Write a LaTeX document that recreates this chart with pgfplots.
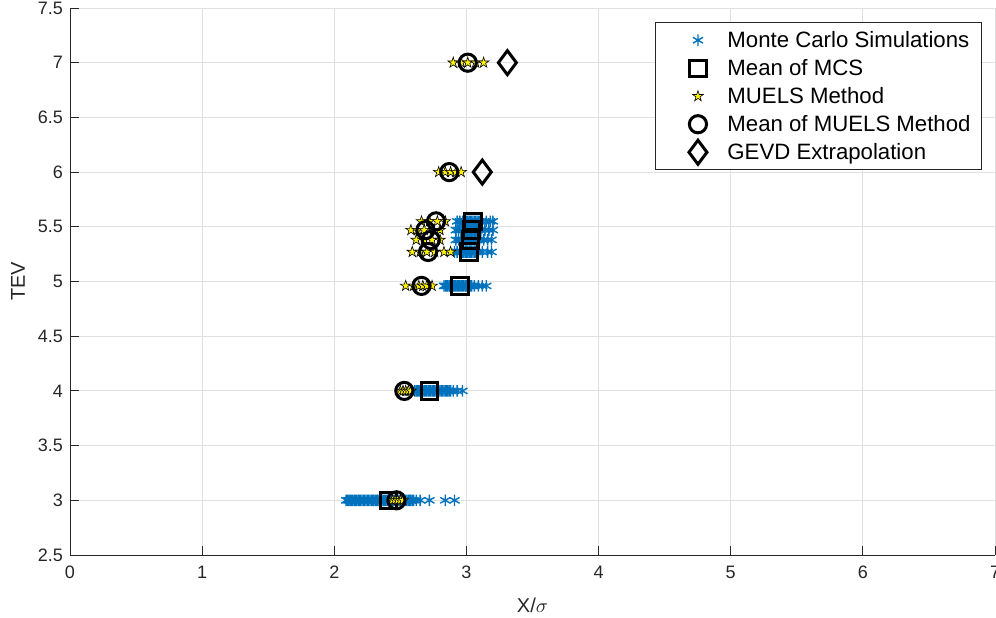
\documentclass[border=0pt]{standalone}
\usepackage{pgfplots}
\pgfplotsset{compat=1.18}
\usepackage{pgfplotstable}
\usepackage{fontspec}
\setmainfont{Liberation Sans}
\setsansfont{Liberation Sans}
\usetikzlibrary{plotmarks}

\definecolor{mblue}{rgb}{0,0.447,0.741}
\definecolor{axgray}{rgb}{0.15,0.15,0.15}

% filled five-pointed star
\pgfdeclareplotmark{pentastar}{%
  \pgfpathmoveto{\pgfpointpolar{90}{\pgfplotmarksize}}%
  \pgfpathlineto{\pgfpointpolar{126}{0.382\pgfplotmarksize}}%
  \pgfpathlineto{\pgfpointpolar{162}{\pgfplotmarksize}}%
  \pgfpathlineto{\pgfpointpolar{198}{0.382\pgfplotmarksize}}%
  \pgfpathlineto{\pgfpointpolar{234}{\pgfplotmarksize}}%
  \pgfpathlineto{\pgfpointpolar{270}{0.382\pgfplotmarksize}}%
  \pgfpathlineto{\pgfpointpolar{306}{\pgfplotmarksize}}%
  \pgfpathlineto{\pgfpointpolar{342}{0.382\pgfplotmarksize}}%
  \pgfpathlineto{\pgfpointpolar{18}{\pgfplotmarksize}}%
  \pgfpathlineto{\pgfpointpolar{54}{0.382\pgfplotmarksize}}%
  \pgfpathclose
  \pgfusepathqfillstroke}

% means of the simulations
\pgfplotstableread{
x y
2.41 3
2.72 4
2.95 4.96
3.02 5.27
3.03 5.38
3.04 5.47
3.05 5.55
}\mcsmean

% MUELS estimates
\pgfplotstableread{
x y
2.44 3
2.46 3
2.48 3
2.50 3
2.52 3
2.50 4
2.52 4
2.54 4
2.56 4
2.58 4
2.54 4.96
2.60 4.96
2.64 4.96
2.67 4.96
2.70 4.96
2.74 4.96
2.59 5.27
2.65 5.27
2.70 5.27
2.76 5.27
2.83 5.27
2.88 5.27
2.62 5.38
2.68 5.38
2.74 5.38
2.80 5.38
2.58 5.47
2.63 5.47
2.68 5.47
2.75 5.47
2.80 5.47
2.66 5.55
2.72 5.55
2.78 5.55
2.84 5.55
2.79 6
2.84 6
2.88 6
2.92 6
2.96 6
2.90 7
2.96 7
3.01 7
3.07 7
3.13 7
}\muels

% means of the MUELS estimates
\pgfplotstableread{
x y
2.47 3
2.53 4
2.66 4.96
2.71 5.27
2.73 5.38
2.69 5.47
2.77 5.55
2.87 6
3.01 7
}\muelsmean

% GEVD extrapolation
\pgfplotstableread{
x y
3.12 6
3.31 7
}\gevd

\pgfplotsset{
  legmark/.style={legend image code/.code={%
      \path (0pt,0pt) (30pt,0pt);
      \draw[##1] plot coordinates {(17.5pt,0pt)};}},
}

\begin{document}
\begin{tikzpicture}
\begin{axis}[
  name=ax,
  scale only axis,
  width=462.5pt, height=273.5pt,
  xmin=0, xmax=7, ymin=2.5, ymax=7.5,
  xtick={0,1,...,7},
  ytick={2.5,3,...,7.5},
  axis x line*=bottom, axis y line*=left,
  axis line style={-, draw=axgray, line width=0.5pt},
  tick align=inside,
  major tick length=4.5pt,
  tick style={draw=axgray, line width=0.5pt},
  grid=major,
  major grid style={draw=black!12, line width=0.5pt},
  /pgf/number format/assume math mode=true,
  ticklabel style={font=\fontsize{9}{10}\selectfont, text=axgray},
  xticklabel style={yshift=-2pt},
  xlabel={X/$\sigma$},
  ylabel={TEV},
  label style={font=\fontsize{10}{12}\selectfont, text=axgray},
  xlabel style={at={(axis description cs:0.5,-0.0914)}, anchor=center},
  ylabel style={at={(axis description cs:-0.0562,0.5)}, anchor=center},
  legend style={at={(axis description cs:0.986,0.974)}, anchor=north east,
    draw=axgray, line width=0.5pt, fill=white,
    font=\fontsize{11.1}{13}\selectfont,
    inner xsep=3.5pt, inner ysep=1.75pt, row sep=0pt,
    nodes={text height=9pt, text depth=1.5pt, inner ysep=1.75pt}},
  legend cell align=left,
  clip=false,
]
% Monte Carlo simulations
\addplot[only marks, mark=asterisk, mark size=2.9pt, color=mblue,
  mark options={line width=0.7pt}, legmark] coordinates {
  (2.09,3) (2.10,3) (2.11,3) (2.12,3) (2.13,3) (2.14,3) (2.15,3) (2.16,3)
  (2.17,3) (2.18,3) (2.19,3) (2.20,3) (2.21,3) (2.22,3) (2.23,3) (2.24,3)
  (2.25,3) (2.26,3) (2.27,3) (2.28,3) (2.29,3) (2.30,3) (2.31,3) (2.32,3)
  (2.33,3) (2.34,3) (2.35,3) (2.36,3) (2.37,3) (2.38,3) (2.39,3) (2.40,3)
  (2.41,3) (2.42,3) (2.43,3) (2.44,3) (2.45,3) (2.46,3) (2.47,3) (2.48,3)
  (2.49,3) (2.50,3) (2.51,3) (2.52,3) (2.53,3) (2.54,3) (2.55,3) (2.56,3)
  (2.57,3) (2.58,3) (2.59,3) (2.60,3) (2.62,3) (2.65,3) (2.72,3) (2.84,3)
  (2.91,3)
  (2.61,4) (2.62,4) (2.63,4) (2.64,4) (2.65,4) (2.66,4) (2.67,4) (2.68,4)
  (2.69,4) (2.70,4) (2.71,4) (2.72,4) (2.73,4) (2.74,4) (2.75,4) (2.76,4)
  (2.77,4) (2.78,4) (2.79,4) (2.80,4) (2.81,4) (2.82,4) (2.83,4) (2.84,4)
  (2.85,4) (2.86,4) (2.87,4) (2.88,4) (2.90,4) (2.93,4) (2.97,4)
  (2.83,4.96) (2.84,4.96) (2.85,4.96) (2.86,4.96) (2.87,4.96) (2.88,4.96)
  (2.89,4.96) (2.90,4.96) (2.91,4.96) (2.92,4.96) (2.93,4.96) (2.94,4.96)
  (2.95,4.96) (2.96,4.96) (2.97,4.96) (2.98,4.96) (2.99,4.96) (3.00,4.96)
  (3.01,4.96) (3.02,4.96) (3.03,4.96) (3.04,4.96) (3.06,4.96) (3.09,4.96)
  (3.12,4.96) (3.15,4.96)
  (2.91,5.27) (2.93,5.27) (2.95,5.27) (2.96,5.27) (2.97,5.27) (2.98,5.27)
  (2.99,5.27) (3.00,5.27) (3.01,5.27) (3.02,5.27) (3.03,5.27) (3.04,5.27)
  (3.05,5.27) (3.06,5.27) (3.07,5.27) (3.09,5.27) (3.12,5.27) (3.16,5.27)
  (3.19,5.27)
  (2.92,5.38) (2.94,5.38) (2.96,5.38) (2.97,5.38) (2.98,5.38) (2.99,5.38)
  (3.00,5.38) (3.01,5.38) (3.02,5.38) (3.03,5.38) (3.04,5.38) (3.05,5.38)
  (3.06,5.38) (3.07,5.38) (3.08,5.38) (3.10,5.38) (3.13,5.38) (3.16,5.38)
  (3.19,5.38)
  (2.92,5.47) (2.94,5.47) (2.96,5.47) (2.98,5.47) (2.99,5.47) (3.00,5.47)
  (3.01,5.47) (3.02,5.47) (3.03,5.47) (3.04,5.47) (3.05,5.47) (3.06,5.47)
  (3.07,5.47) (3.08,5.47) (3.09,5.47) (3.11,5.47) (3.14,5.47) (3.17,5.47)
  (3.20,5.47)
  (2.93,5.55) (2.95,5.55) (2.97,5.55) (2.99,5.55) (3.00,5.55) (3.01,5.55)
  (3.02,5.55) (3.03,5.55) (3.04,5.55) (3.05,5.55) (3.06,5.55) (3.07,5.55)
  (3.08,5.55) (3.09,5.55) (3.10,5.55) (3.12,5.55) (3.15,5.55) (3.18,5.55)
  (3.20,5.55)
};
\addlegendentry{Monte Carlo Simulations}
\addplot[only marks, mark=square, mark size=4.1pt, color=black,
  mark options={line width=1.5pt, fill=none}, legmark] table {\mcsmean};
\addlegendentry{Mean of MCS}
\addplot[only marks, mark=pentastar, mark size=2.8pt, color=black,
  mark options={fill=yellow, draw=black, line width=0.3pt}, legmark] table {\muels};
\addlegendentry{MUELS Method}
\addplot[only marks, mark=o, mark size=4.3pt, color=black,
  mark options={line width=1.5pt, fill=none}, legmark] table {\muelsmean};
\addlegendentry{Mean of MUELS Method}
\addplot[only marks, mark=diamond, mark size=6pt, color=black,
  mark options={line width=1.5pt, fill=none}, legmark] table {\gevd};
\addlegendentry{GEVD Extrapolation}
\end{axis}
\pgfresetboundingbox
\path[use as bounding box] ([xshift=-35pt,yshift=-31pt]ax.south west)
  rectangle ([xshift=0.5pt,yshift=4pt]ax.north east);
\end{tikzpicture}
\end{document}
